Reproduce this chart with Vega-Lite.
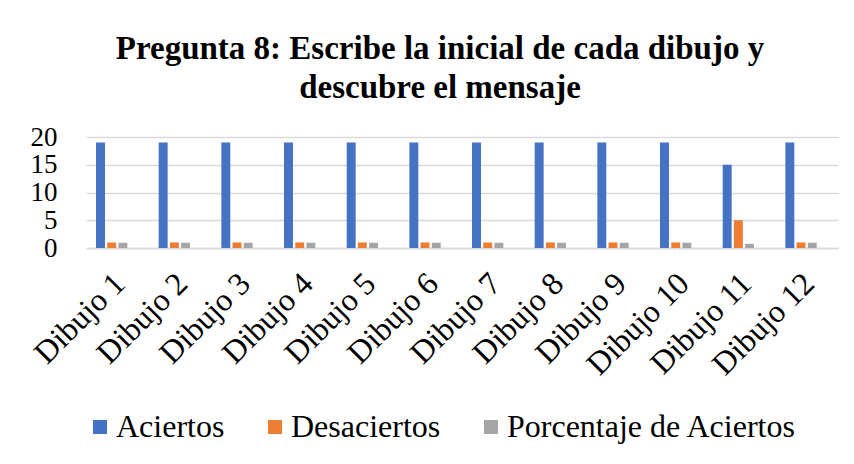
{
  "$schema": "https://vega.github.io/schema/vega-lite/v6.json",
  "width": 752,
  "height": 111,
  "autosize": {"type": "none"},
  "padding": {"left": 86, "top": 137, "right": 16, "bottom": 216},
  "background": "white",
  "title": {
    "text": ["Pregunta 8: Escribe la inicial de cada dibujo y", "descubre el mensaje"],
    "font": "Liberation Serif",
    "fontSize": 33,
    "fontWeight": "bold",
    "color": "black",
    "anchor": "middle",
    "dx": -22,
    "offset": 18,
    "lineHeight": 39
  },
  "data": {
    "values": [
      {"dibujo": "Dibujo 1", "serie": "Aciertos", "valor": 19},
      {"dibujo": "Dibujo 1", "serie": "Desaciertos", "valor": 1},
      {"dibujo": "Dibujo 1", "serie": "Porcentaje de Aciertos", "valor": 0.95},
      {"dibujo": "Dibujo 2", "serie": "Aciertos", "valor": 19},
      {"dibujo": "Dibujo 2", "serie": "Desaciertos", "valor": 1},
      {"dibujo": "Dibujo 2", "serie": "Porcentaje de Aciertos", "valor": 0.95},
      {"dibujo": "Dibujo 3", "serie": "Aciertos", "valor": 19},
      {"dibujo": "Dibujo 3", "serie": "Desaciertos", "valor": 1},
      {"dibujo": "Dibujo 3", "serie": "Porcentaje de Aciertos", "valor": 0.95},
      {"dibujo": "Dibujo 4", "serie": "Aciertos", "valor": 19},
      {"dibujo": "Dibujo 4", "serie": "Desaciertos", "valor": 1},
      {"dibujo": "Dibujo 4", "serie": "Porcentaje de Aciertos", "valor": 0.95},
      {"dibujo": "Dibujo 5", "serie": "Aciertos", "valor": 19},
      {"dibujo": "Dibujo 5", "serie": "Desaciertos", "valor": 1},
      {"dibujo": "Dibujo 5", "serie": "Porcentaje de Aciertos", "valor": 0.95},
      {"dibujo": "Dibujo 6", "serie": "Aciertos", "valor": 19},
      {"dibujo": "Dibujo 6", "serie": "Desaciertos", "valor": 1},
      {"dibujo": "Dibujo 6", "serie": "Porcentaje de Aciertos", "valor": 0.95},
      {"dibujo": "Dibujo 7", "serie": "Aciertos", "valor": 19},
      {"dibujo": "Dibujo 7", "serie": "Desaciertos", "valor": 1},
      {"dibujo": "Dibujo 7", "serie": "Porcentaje de Aciertos", "valor": 0.95},
      {"dibujo": "Dibujo 8", "serie": "Aciertos", "valor": 19},
      {"dibujo": "Dibujo 8", "serie": "Desaciertos", "valor": 1},
      {"dibujo": "Dibujo 8", "serie": "Porcentaje de Aciertos", "valor": 0.95},
      {"dibujo": "Dibujo 9", "serie": "Aciertos", "valor": 19},
      {"dibujo": "Dibujo 9", "serie": "Desaciertos", "valor": 1},
      {"dibujo": "Dibujo 9", "serie": "Porcentaje de Aciertos", "valor": 0.95},
      {"dibujo": "Dibujo 10", "serie": "Aciertos", "valor": 19},
      {"dibujo": "Dibujo 10", "serie": "Desaciertos", "valor": 1},
      {"dibujo": "Dibujo 10", "serie": "Porcentaje de Aciertos", "valor": 0.95},
      {"dibujo": "Dibujo 11", "serie": "Aciertos", "valor": 15},
      {"dibujo": "Dibujo 11", "serie": "Desaciertos", "valor": 5},
      {"dibujo": "Dibujo 11", "serie": "Porcentaje de Aciertos", "valor": 0.75},
      {"dibujo": "Dibujo 12", "serie": "Aciertos", "valor": 19},
      {"dibujo": "Dibujo 12", "serie": "Desaciertos", "valor": 1},
      {"dibujo": "Dibujo 12", "serie": "Porcentaje de Aciertos", "valor": 0.95}
    ]
  },
  "mark": {"type": "bar"},
  "encoding": {
    "x": {
      "field": "dibujo",
      "type": "nominal",
      "sort": null,
      "scale": {"paddingInner": 0.5, "paddingOuter": 0.25, "align": 0.32},
      "axis": {
        "title": null,
        "labelAngle": -45,
        "labelAlign": "right",
        "labelBaseline": "middle",
        "labelFont": "Liberation Serif",
        "labelFontSize": 32,
        "labelColor": "black",
        "labelPadding": 30,
        "labelOffset": 8,
        "labelOverlap": false,
        "ticks": false,
        "domainColor": "#d9d9d9",
        "domainWidth": 1.5
      }
    },
    "xOffset": {"field": "serie", "type": "nominal", "sort": null, "scale": {"paddingInner": 0.2}},
    "y": {
      "field": "valor",
      "type": "quantitative",
      "scale": {"domain": [0, 20]},
      "axis": {
        "title": null,
        "values": [0, 5, 10, 15, 20],
        "domain": false,
        "ticks": false,
        "labelFont": "Liberation Serif",
        "labelFontSize": 27,
        "labelColor": "black",
        "labelPadding": 29,
        "labelOverlap": false,
        "gridColor": "#d9d9d9",
        "gridWidth": 1.5
      }
    },
    "color": {
      "field": "serie",
      "type": "nominal",
      "scale": {
        "domain": ["Aciertos", "Desaciertos", "Porcentaje de Aciertos"],
        "range": ["#4472C4", "#ED7D31", "#A5A5A5"]
      },
      "legend": {
        "title": null,
        "orient": "none",
        "direction": "horizontal",
        "legendX": -2,
        "legendY": 274,
        "padding": 0,
        "symbolType": "square",
        "symbolSize": 196,
        "symbolStrokeWidth": 0,
        "symbolOpacity": 1,
        "labelFont": "Liberation Serif",
        "labelFontSize": 32,
        "labelColor": "black",
        "labelOffset": 0,
        "columnPadding": 34,
        "labelLimit": 400
      }
    }
  },
  "config": {"view": {"stroke": null}}
}
